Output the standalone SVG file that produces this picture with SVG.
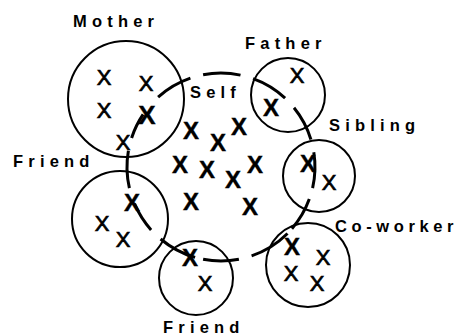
<svg xmlns="http://www.w3.org/2000/svg" width="460" height="335" viewBox="0 0 460 335">
<style>
.c{fill:none;stroke:#000;stroke-width:2}
.d{fill:none;stroke:#000;stroke-width:3;stroke-linecap:butt}
.lbl{font-family:"Liberation Sans",Arial,sans-serif;font-size:16.5px;font-weight:bold;letter-spacing:5.2px;fill:#000}
.x{font-family:"Liberation Sans",Arial,sans-serif;font-size:22px;fill:#000;stroke:#000;stroke-width:0.7;text-anchor:middle}
.xb{font-family:"Liberation Sans",Arial,sans-serif;font-size:24px;font-weight:bold;fill:#000;stroke:#000;stroke-width:0.4;text-anchor:middle}
</style>
<rect width="460" height="335" fill="#fff"/>
<g id="self">
<text class="lbl" x="190" y="98">Self</text>
<text class="xb" x="191" y="139">X</text>
<text class="xb" x="218" y="151">X</text>
<text class="xb" x="239" y="135">X</text>
<text class="xb" x="180" y="173">X</text>
<text class="xb" x="207" y="178">X</text>
<text class="xb" x="233" y="188">X</text>
<text class="xb" x="255" y="173">X</text>
<text class="xb" x="191" y="210">X</text>
<text class="xb" x="250" y="215">X</text>
</g>
<g id="mother">
<circle class="c" cx="126" cy="99" r="58"/>
<text class="lbl" x="73" y="27">Mother</text>
<text class="x" x="104" y="85">X</text>
<text class="x" x="146" y="91">X</text>
<text class="x" x="104" y="118">X</text>
<text class="xb" x="147" y="124" style="font-size:26px">X</text>
<text class="x" x="123" y="150">X</text>
</g>
<g id="father">
<circle class="c" cx="288" cy="95" r="37"/>
<text class="lbl" x="245" y="49">Father</text>
<text class="x" x="297" y="83">X</text>
<text class="xb" x="271" y="116">X</text>
</g>
<g id="sibling">
<circle class="c" cx="319" cy="176" r="36"/>
<text class="lbl" x="329" y="130.5">Sibling</text>
<text class="xb" x="308" y="172">X</text>
<text class="x" x="329" y="190">X</text>
</g>
<g id="coworker">
<circle class="c" cx="308" cy="265" r="42"/>
<text class="lbl" x="335" y="232" style="letter-spacing:4.6px">Co-worker</text>
<text class="xb" x="292" y="255">X</text>
<text class="x" x="323" y="265">X</text>
<text class="x" x="291" y="281">X</text>
<text class="x" x="317" y="291">X</text>
</g>
<g id="friend-left">
<circle class="c" cx="120" cy="219" r="48"/>
<text class="lbl" x="13" y="167">Friend</text>
<text class="xb" x="132" y="211">X</text>
<text class="x" x="102" y="231">X</text>
<text class="x" x="123" y="247">X</text>
</g>
<g id="friend-bottom">
<circle class="c" cx="196" cy="278" r="37"/>
<text class="lbl" x="163" y="333">Friend</text>
<text class="xb" x="190" y="266">X</text>
<text class="x" x="205" y="291">X</text>
</g>
<g id="connectors">
<path class="d" d="M203.1,74.7 A94,94 0 0 1 240.5,75.1
M253.1,78.7 A94,94 0 0 1 285.1,98.2
M294.0,107.8 A94,94 0 0 1 310.9,139.5
M313.8,152.3 A94,94 0 0 1 312.6,188.1
M309.3,199.1 A94,94 0 0 1 291.9,228.7
M287.5,233.5 A94,94 0 0 1 251.6,255.9
M238.9,259.3 A94,94 0 0 1 203.1,259.3
M195.1,257.4 A94,94 0 0 1 160.6,239.0
M151.1,229.9 A94,94 0 0 1 134.5,203.7
M129.4,188.1 A94,94 0 0 1 128.4,150.7
M131.6,138.0 A94,94 0 0 1 143.1,114.4
M158.1,97.1 A94,94 0 0 1 190.4,78.1"/>
</g>
</svg>
